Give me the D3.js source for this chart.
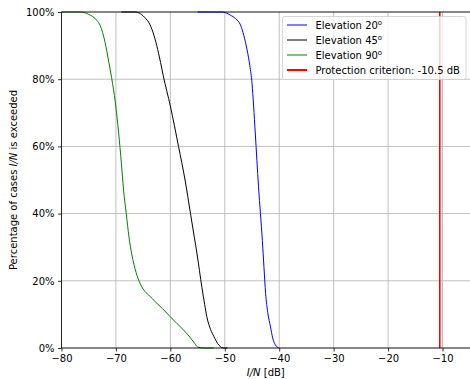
<!DOCTYPE html>
<html><head><meta charset="utf-8">
<script src="https://cdn.jsdelivr.net/npm/d3@7"></script>
<style>body{margin:0;background:#fff}svg{display:block;font-family:"DejaVu Sans",sans-serif}</style>
</head><body><svg id="c" width="470" height="379"></svg>
<script>
const xTicks = [-80,-70,-60,-50,-40,-30,-20,-10];
const yTicks = [0,20,40,60,80,100];
const criterion = -10.5;
const elev20 = [[-55,100],[-50.5,100],[-49,99.1],[-48,98],[-47.1,96.1],[-46.5,93],[-45.9,88.7],[-45.4,84],[-45,78.8],[-44.7,72],[-44.4,64],[-43.8,48],[-43.1,32],[-42.8,24],[-42.5,16.3],[-42.1,10.5],[-41.6,6.3],[-41.2,3],[-40.7,0.9],[-40.3,0.2],[-40,0]];
const elev45 = [[-69,100],[-66.5,100],[-65.5,99.5],[-64.5,98],[-64,97],[-63.2,94],[-62.5,90],[-61.8,85],[-61.3,81],[-60,72],[-58.5,60],[-57.3,50],[-56.3,40],[-55.6,33],[-55.1,28],[-54.2,18],[-53.7,13],[-53.3,9.3],[-52.6,5.5],[-52,3.4],[-51.3,1.3],[-50.8,0.4],[-50.3,0],[-49.5,0]];
const elev90 = [[-80,100],[-76.5,100],[-75,99.3],[-73.5,97.5],[-72.9,96],[-72,91],[-71.3,85],[-70.8,80.5],[-70.1,73],[-69.5,64],[-69,55],[-68.6,47],[-68.1,40],[-67.6,33],[-67.1,28],[-66.3,22.5],[-65.5,19],[-64.5,16.5],[-64,15.8],[-62.8,13.8],[-61.5,11.8],[-60,9.3],[-58.8,7.3],[-57.6,5.4],[-56.3,3],[-55.5,1.3],[-55,0.3],[-54,0],[-52,0]];
const seriesNames = ["Elevation 20","Elevation 45","Elevation 90"];
const seriesColors = ["#0000ff","#000000","#008000"];
const criterionLabel = "Protection criterion: -10.5 dB";

const svg = d3.select("#c");
const L=61.5, T=12, B=348;
const x = d3.scaleLinear().domain([-80,-10]).range([L,442.5]);
const R = 470;
const y = d3.scaleLinear().domain([0,100]).range([B,T]);

// grid
const g = svg.append("g");
g.selectAll(".gx").data(xTicks).enter().append("line")
 .attr("x1",d=>x(d)).attr("x2",d=>x(d)).attr("y1",T).attr("y2",B)
 .attr("stroke","#b0b0b0").attr("stroke-width",0.8);
g.selectAll(".gy").data(yTicks).enter().append("line")
 .attr("x1",L).attr("x2",R).attr("y1",d=>y(d)).attr("y2",d=>y(d))
 .attr("stroke","#b0b0b0").attr("stroke-width",0.8);

const line = d3.line().x(d=>x(d[0])).y(d=>y(d[1])).curve(d3.curveMonotoneX);
[elev20,elev45,elev90].forEach((s,i)=>{
  svg.append("path").datum(s).attr("d",line).attr("fill","none")
   .attr("stroke",seriesColors[i]).attr("stroke-width",1);
});
svg.append("line").attr("x1",x(criterion)).attr("x2",x(criterion)).attr("y1",T).attr("y2",B)
 .attr("stroke","#ff0000").attr("stroke-width",1.6);

// axes
const xa = svg.append("g").attr("transform",`translate(0,${B})`)
 .call(d3.axisBottom(x).tickValues(xTicks).tickSize(3.5).tickPadding(3.5).tickFormat(d=>String(d).replace("-","\u2212")));
const ya = svg.append("g").attr("transform",`translate(${L},0)`)
 .call(d3.axisLeft(y).tickValues(yTicks).tickSize(3.5).tickPadding(3.5).tickFormat(d=>d+"%"));
[xa,ya].forEach(a=>{a.select(".domain").remove();a.selectAll("text").attr("font-size",10).attr("font-family","DejaVu Sans").attr("fill","#000");a.selectAll("line").attr("stroke","#000").attr("stroke-width",0.8);});
// spines (left, top, bottom)
svg.append("path").attr("d",`M${R},${T}H${L}V${B}H${R}`)
 .attr("fill","none").attr("stroke","#000").attr("stroke-width",0.8);

// labels
const xl = svg.append("text").attr("x",(L+R)/2).attr("y",376).attr("text-anchor","middle").attr("font-size",10);
xl.append("tspan").attr("font-style","italic").text("I/N");
xl.append("tspan").text(" [dB]");
const yl = svg.append("text").attr("transform",`translate(17,${(T+B)/2}) rotate(-90)`).attr("text-anchor","middle").attr("font-size",10);
yl.append("tspan").text("Percentage of cases ");
yl.append("tspan").attr("font-style","italic").text("I/N");
yl.append("tspan").text(" is exceeded");

// legend
const lg = svg.append("g");
lg.append("rect").attr("x",282.5).attr("y",16.5).attr("width",183.5).attr("height",63).attr("rx",2.5)
 .attr("fill","#fff").attr("fill-opacity",0.8).attr("stroke","#cccccc").attr("stroke-width",0.8);
const items = seriesNames.map((n,i)=>({n, c:seriesColors[i], w:1, sup:true})).concat([{n:criterionLabel,c:"#ff0000",w:2,sup:false}]);
items.forEach((it,i)=>{
  const yy = 25 + i*15;
  lg.append("line").attr("x1",287).attr("x2",307).attr("y1",yy).attr("y2",yy).attr("stroke",it.c).attr("stroke-width",it.w);
  const t = lg.append("text").attr("x",315.5).attr("y",yy+3.5).attr("font-size",10);
  t.append("tspan").text(it.n);
  if(it.sup) t.append("tspan").attr("dy",-4).attr("font-size",7).text("o");
});
</script></body></html>
